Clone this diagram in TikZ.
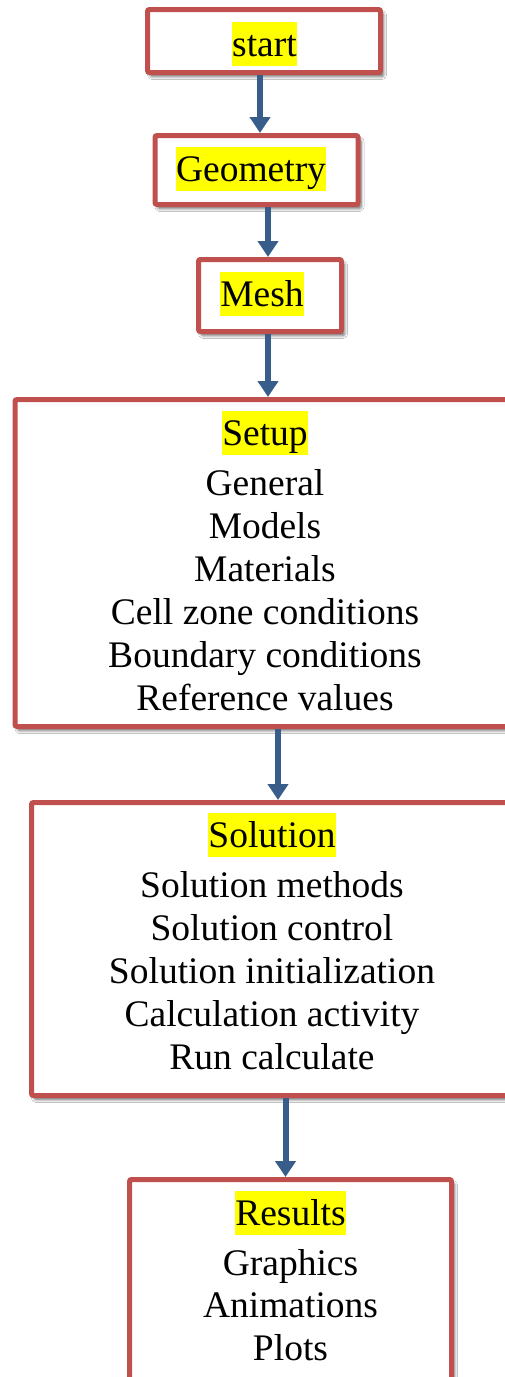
\documentclass[tikz,border=0pt]{standalone}
\usepackage{fontspec}
\setmainfont{Liberation Serif}
\usetikzlibrary{arrows.meta,shadows.blur}
\definecolor{boxred}{RGB}{192,80,77}
\definecolor{arrblue}{RGB}{56,93,138}
\definecolor{hlyellow}{RGB}{255,255,0}
\begin{document}
\begin{tikzpicture}[x=1pt,y=-1pt,
  box/.style={draw=boxred, line width=5pt, fill=white, rounded corners=2pt, inner sep=0pt,
    blur shadow={shadow xshift=3pt, shadow yshift=-4pt, shadow opacity=60, shadow blur steps=6, shadow blur radius=3pt}},
  hl/.style={fill=hlyellow, inner sep=0pt, text height=34pt, text depth=10pt, anchor=base,
    font=\fontsize{37.5}{43}\selectfont},
  item/.style={inner sep=0pt, anchor=base, font=\fontsize{37.5}{43}\selectfont},
  arr/.style={draw=arrblue, line width=6pt, -{Triangle[width=20pt,length=16pt]}}
]
\clip (0,0) rectangle (505,1377);
\fill[white] (0,0) rectangle (505,1377);

% boxes
\node[box, minimum width=233pt, minimum height=63pt] (start) at (264,41) {};
\node[box, minimum width=203pt, minimum height=69pt] (geo) at (256.5,170) {};
\node[box, minimum width=143pt, minimum height=72pt] (mesh) at (270,295.5) {};
\node[box, minimum width=502pt, minimum height=327pt] (setup) at (266,563) {};
\node[box, minimum width=482pt, minimum height=293pt] (sol) at (272.5,949) {};
\node[box, minimum width=322pt, minimum height=220pt] (res) at (290.5,1289.5) {};

% titles
\node[hl] (t1) at (264.5,56) {start};
\node[hl] (t2) at (251,181) {Geometry};
\node[hl] (t3) at (262,306) {Mesh};
\node[hl] (t4) at (265,445) {Setup};
\node[hl] (t5) at (272,847) {Solution};
\node[hl] (t6) at (290.5,1225) {Results};

% items
\foreach \txt [count=\i from 0] in {General,Models,Materials,Cell zone conditions,Boundary conditions,Reference values}
  \node[item] (s\i) at (265,495+43*\i) {\txt};
\foreach \txt [count=\i from 0] in {Solution methods,Solution control,Solution initialization,Calculation activity,Run calculate}
  \node[item] (o\i) at (272,897+43*\i) {\txt};
\foreach \txt [count=\i from 0] in {Graphics,Animations,Plots}
  \node[item] (r\i) at (290.5,1275+42.5*\i) {\txt};

% arrows
\draw[arr] ([xshift=-4pt]start.south) -- ([xshift=3.5pt]geo.north);
\draw[arr] ([xshift=11.5pt]geo.south) -- ([xshift=-2pt]mesh.north);
\draw[arr] ([xshift=-2pt]mesh.south) -- ([xshift=2pt]setup.north);
\draw[arr] ([xshift=12pt]setup.south) -- ([xshift=5.5pt]sol.north);
\draw[arr] ([xshift=13pt]sol.south) -- ([xshift=-5pt]res.north);
\end{tikzpicture}
\end{document}
